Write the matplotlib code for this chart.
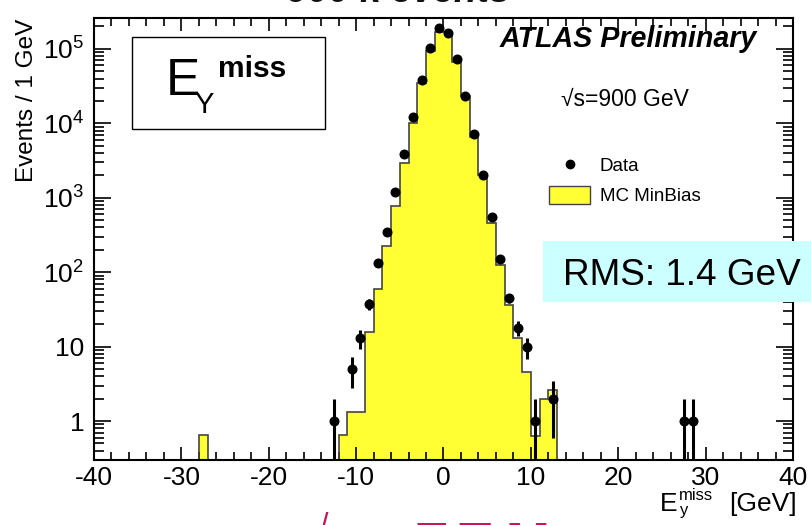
import numpy as np
import matplotlib
matplotlib.use("Agg")
import matplotlib.pyplot as plt
from matplotlib.patches import Rectangle, Patch
from matplotlib.lines import Line2D
from matplotlib.ticker import MultipleLocator, FixedLocator, FixedFormatter, LogLocator, NullFormatter

plt.rcParams['font.family'] = ['Liberation Sans', 'DejaVu Sans']
plt.rcParams['mathtext.fontset'] = 'custom'
plt.rcParams['mathtext.rm'] = 'Liberation Sans'
plt.rcParams['mathtext.it'] = 'Liberation Sans:italic'
plt.rcParams['mathtext.bf'] = 'Liberation Sans:bold'
plt.rcParams['axes.unicode_minus'] = False

# ---------------- data ----------------
# MC MinBias histogram (1 GeV bins, given by lower bin edge)
mc_bin_low = [-28, -12, -11, -10, -9, -8, -7, -6, -5, -4, -3, -2, -1,
              0, 1, 2, 3, 4, 5, 6, 7, 8, 9, 10, 11, 12]
mc_values = [0.66, 0.66, 1.31, 1.31, 15.7, 59, 222, 764, 2920, 10000, 34700, 95000, 167000,
             167000, 67000, 23000, 6600, 2040, 458, 126, 36.6, 13.1, 4.5, 0.64, 1.99, 2.6]

# Data points (bin centres, counts)
data_x = [-12.5, -10.5, -9.5, -8.5, -7.5, -6.5, -5.5, -4.5, -3.5, -2.5, -1.5, -0.5,
          0.5, 1.5, 2.5, 3.5, 4.5, 5.5, 6.5, 7.5, 8.5, 9.5, 10.5, 12.5, 27.5, 28.5]
data_y = [1, 5, 13, 37, 135, 347, 1190, 3900, 12300, 38300, 102000, 190000,
          166000, 73000, 23300, 7160, 2040, 550, 152, 45, 18, 10, 1, 2, 1, 1]

x_ticks = [-40, -30, -20, -10, 0, 10, 20, 30, 40]
y_ticks = [1, 10, 100, 1000, 10000, 100000]
y_ticklabels = ['1', '10', r'$10^{2}$', r'$10^{3}$', r'$10^{4}$', r'$10^{5}$']

# ---------------- figure ----------------
W, H = 812, 525
def fx(x): return x / W
def fy(y): return 1 - y / H

fig = plt.figure(figsize=(W / 100, H / 100), dpi=100)
ax = fig.add_axes([fx(94), fy(460), (793 - 94) / W, (460 - 18) / H])

edges = np.arange(-40, 41)
empty = 1e-3
vals = np.full(len(edges) - 1, empty)
for lo, v in zip(mc_bin_low, mc_values):
    vals[lo + 40] = v

yellow = '#ffff33'
ax.stairs(vals, edges, baseline=empty, fill=True, facecolor=yellow, edgecolor='none', zorder=1)
ax.stairs(vals, edges, baseline=empty, fill=False, edgecolor='#444444', linewidth=1.2, zorder=2)

dy = np.asarray(data_y, dtype=float)
err = np.sqrt(dy)
lo_err = np.minimum(err, dy * 0.999)
ax.errorbar(data_x, dy, yerr=[lo_err, err], fmt='o', color='black', ms=6.2,
            elinewidth=2.2, capsize=0, zorder=3)

ax.set_yscale('log')
ax.set_xlim(-40, 40)
ax.set_ylim(0.3, 2.6e5)

ax.xaxis.set_major_locator(FixedLocator(x_ticks))
ax.xaxis.set_minor_locator(MultipleLocator(2))
ax.yaxis.set_major_locator(FixedLocator(y_ticks))
ax.yaxis.set_major_formatter(FixedFormatter(y_ticklabels))
ax.yaxis.set_minor_locator(LogLocator(base=10, subs=np.arange(2, 10)))
ax.yaxis.set_minor_formatter(NullFormatter())

ax.tick_params(which='both', direction='in', top=True, right=True, width=1.2)
ax.tick_params(axis='x', which='major', length=9.5, labelsize=19, pad=4)
ax.tick_params(axis='x', which='minor', length=5.5)
ax.tick_params(axis='y', which='major', length=12, labelsize=19, pad=7)
ax.tick_params(axis='y', which='minor', length=7)
for s in ax.spines.values():
    s.set_linewidth(1.5)

# axis labels
fig.text(fx(27), fy(19), 'Events / 1 GeV', rotation=90, ha='center', va='top', fontsize=17.5)
fig.text(fx(797), fy(511), '[GeV]', ha='right', va='baseline', fontsize=19)
fig.text(fx(660), fy(511), 'E', ha='left', va='baseline', fontsize=19)
fig.text(fx(679), fy(500), 'miss', ha='left', va='baseline', fontsize=12)
fig.text(fx(680), fy(515), 'y', ha='left', va='baseline', fontsize=12)

# E_Y^miss box
fig.add_artist(Rectangle((fx(131.5), fy(129)), (325 - 131.5) / W, (129 - 36.5) / H,
                         transform=fig.transFigure, facecolor='white', edgecolor='black',
                         linewidth=1.0))
fig.text(fx(166), fy(95), 'E', fontsize=37, ha='left', va='baseline')
fig.text(fx(194), fy(113), 'Y', fontsize=21, ha='left', va='baseline')
fig.text(fx(218), fy(77), 'miss', fontsize=21.5, fontweight='bold', ha='left', va='baseline')

# ATLAS label
fig.text(fx(500), fy(47), 'ATLAS Preliminary', fontsize=20.6, fontweight='bold',
         fontstyle='italic', ha='left', va='baseline')
fig.text(fx(561), fy(106), '\u221As=900 GeV', fontsize=16.5, ha='left', va='baseline')

# legend
handles = [Line2D([], [], marker='o', ls='none', color='black', ms=6),
           Patch(facecolor=yellow, edgecolor='#444444', linewidth=1.0)]
leg = ax.legend(handles, ['Data', 'MC MinBias'], loc='upper left',
                bbox_to_anchor=(fx(549), fy(156)), bbox_transform=fig.transFigure,
                frameon=False, fontsize=13.5, handlelength=2.2, handleheight=1.05,
                handletextpad=0.5, labelspacing=0.6, borderpad=0, borderaxespad=0)

# RMS box
fig.add_artist(Rectangle((fx(543), fy(302)), (812 - 543) / W, (302 - 241) / H,
                         transform=fig.transFigure, facecolor='#ccffff', edgecolor='none'))
fig.text(fx(563), fy(285), 'RMS: 1.4 GeV', fontsize=26.6, ha='left', va='baseline')

# clipped slide text at top and bottom
fig.text(fx(287), fy(2), '900 k events', fontsize=27, fontweight='bold', fontstyle='italic',
         ha='left', va='baseline', color='#111111')
slide_red = '#c2185b'
fig.text(fx(320), fy(512), '/', fontsize=22, ha='left', va='top', color=slide_red)
for letter, xpos in [('E', 414), ('T', 458), ('M', 506)]:
    fig.text(fx(xpos), fy(521), letter, fontsize=38, fontweight='bold', ha='left', va='top',
             color=slide_red)

fig.savefig('out.png', dpi=100)
